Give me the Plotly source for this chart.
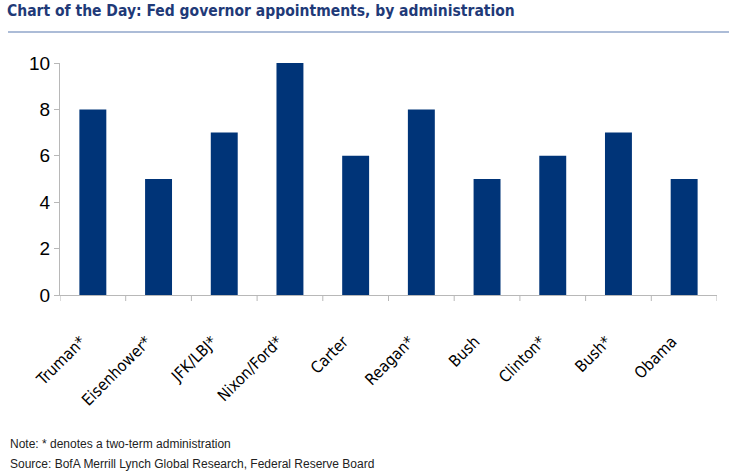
import plotly.graph_objects as go

categories = ["Truman*", "Eisenhower*", "JFK/LBJ*", "Nixon/Ford*", "Carter",
              "Reagan*", "Bush", "Clinton*", "Bush*", "Obama"]
appointments = [8, 5, 7, 10, 6, 8, 5, 6, 7, 5]
tick_vals = [0, 2, 4, 6, 8, 10]

x_idx = list(range(len(categories)))

W, H = 736, 473
ML, MR, MT, MB = 60, 19, 63, 178
PH = H - MT - MB
PW = W - ML - MR


def py(pix):
    return (H - pix - MB) / PH


def px(pix):
    return (pix - ML) / PW


fig = go.Figure()
fig.add_trace(go.Bar(x=x_idx, y=appointments, marker_color="#003478",
                     marker_line_width=0, width=0.41))

fig.update_layout(
    width=W, height=H,
    margin=dict(l=ML, r=MR, t=MT, b=MB, autoexpand=False),
    paper_bgcolor="white", plot_bgcolor="white",
    showlegend=False,
    title=dict(text="Chart of the Day: Fed governor appointments, by administration",
               x=7 / W, xanchor="left", y=1 - 5 / H, yanchor="top",
               font=dict(family="DejaVu Sans Condensed", weight="bold",
                         size=15.5, color="#1f3a78")),
    xaxis=dict(range=[-0.5, 9.5], tickmode="array", tickvals=x_idx, ticktext=categories,
               tickangle=-45, showgrid=False, showline=True, linecolor="#b8b8b8",
               ticks="", ticklabelstandoff=30, ticklabelshift=-12,
               tickfont=dict(family="DejaVu Sans Condensed", size=16, color="black")),
    yaxis=dict(range=[0, 10], tickvals=tick_vals, showgrid=False, showline=True,
               linecolor="#b8b8b8", ticks="outside", ticklen=5, tickcolor="#b8b8b8",
               zeroline=False,
               tickfont=dict(family="Liberation Sans, Arial, sans-serif", size=19, color="black")),
    shapes=[
        dict(type="line", xref="paper", yref="paper", x0=px(8), x1=px(729),
             y0=py(32), y1=py(32), line=dict(color="#5a7bb0", width=1.2)),
    ] + [
        dict(type="line", xref="x", yref="paper", x0=i - 0.5, x1=i - 0.5, y0=0, y1=-6 / PH,
             line=dict(color="#b8b8b8", width=1)) for i in range(11)
    ],
    annotations=[
        dict(text="Note: * denotes a two-term administration", xref="paper", yref="paper",
             x=px(8), y=py(444), xanchor="left", yanchor="middle",
             showarrow=False, font=dict(family="Liberation Sans, Arial, sans-serif", size=12, color="#222")),
        dict(text="Source: BofA Merrill Lynch Global Research, Federal Reserve Board", xref="paper", yref="paper",
             x=px(8), y=py(464), xanchor="left", yanchor="middle",
             showarrow=False, font=dict(family="Liberation Sans, Arial, sans-serif", size=12, color="#222")),
    ],
)

fig.write_html("out.html", config={"displayModeBar": False},
               post_script="document.body.style.margin='0';")
